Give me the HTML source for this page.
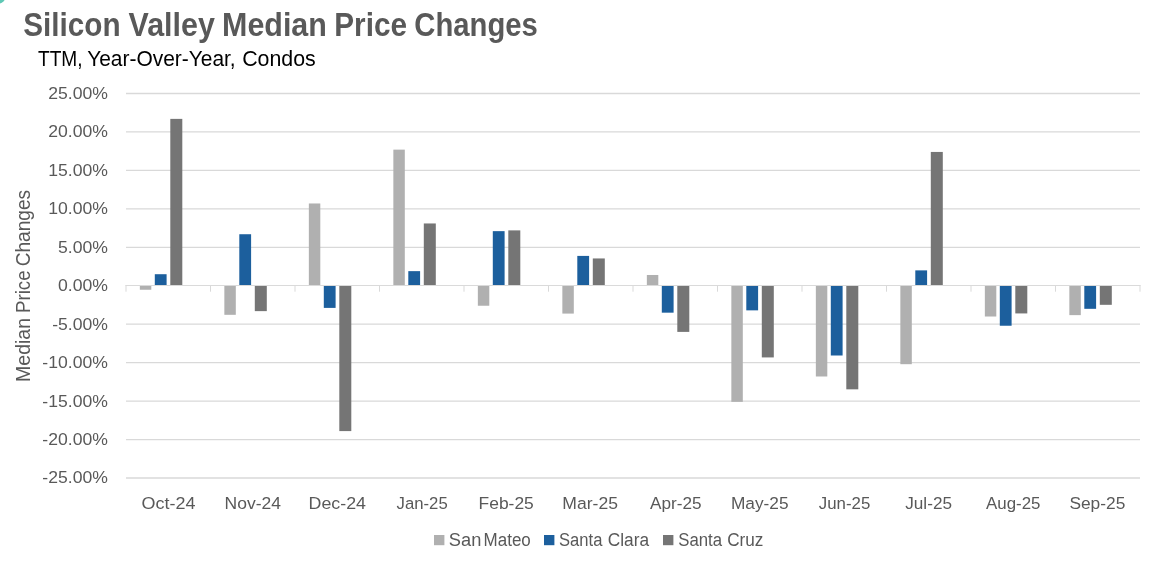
<!DOCTYPE html>
<html lang="en"><head><meta charset="utf-8"><title>Silicon Valley Median Price Changes</title>
<style>html,body{margin:0;padding:0;background:#fff;}body{width:1164px;height:576px;overflow:hidden;}svg{display:block;}text{font-family:"Liberation Sans", sans-serif;}</style>
</head><body>
<svg width="1164" height="576" viewBox="0 0 1164 576">
<rect width="1164" height="576" fill="#ffffff"/>
<circle cx="-3" cy="-5" r="9.1" fill="#5fc8b5"/>
<g stroke="#d9d9d9" stroke-width="1.3" fill="none">
<line x1="126.00" y1="93.50" x2="1140.00" y2="93.50"/>
<line x1="126.00" y1="131.95" x2="1140.00" y2="131.95"/>
<line x1="126.00" y1="170.40" x2="1140.00" y2="170.40"/>
<line x1="126.00" y1="208.85" x2="1140.00" y2="208.85"/>
<line x1="126.00" y1="247.30" x2="1140.00" y2="247.30"/>
<line x1="126.00" y1="324.20" x2="1140.00" y2="324.20"/>
<line x1="126.00" y1="362.65" x2="1140.00" y2="362.65"/>
<line x1="126.00" y1="401.10" x2="1140.00" y2="401.10"/>
<line x1="126.00" y1="439.55" x2="1140.00" y2="439.55"/>
<line x1="126.00" y1="478.00" x2="1140.00" y2="478.00"/>
<line x1="126.00" y1="285.00" x2="126.00" y2="291.70" stroke-width="1"/>
<line x1="210.50" y1="285.00" x2="210.50" y2="291.70" stroke-width="1"/>
<line x1="295.00" y1="285.00" x2="295.00" y2="291.70" stroke-width="1"/>
<line x1="379.50" y1="285.00" x2="379.50" y2="291.70" stroke-width="1"/>
<line x1="464.00" y1="285.00" x2="464.00" y2="291.70" stroke-width="1"/>
<line x1="548.50" y1="285.00" x2="548.50" y2="291.70" stroke-width="1"/>
<line x1="633.00" y1="285.00" x2="633.00" y2="291.70" stroke-width="1"/>
<line x1="717.50" y1="285.00" x2="717.50" y2="291.70" stroke-width="1"/>
<line x1="802.00" y1="285.00" x2="802.00" y2="291.70" stroke-width="1"/>
<line x1="886.50" y1="285.00" x2="886.50" y2="291.70" stroke-width="1"/>
<line x1="971.00" y1="285.00" x2="971.00" y2="291.70" stroke-width="1"/>
<line x1="1055.50" y1="285.00" x2="1055.50" y2="291.70" stroke-width="1"/>
<line x1="1140.00" y1="285.00" x2="1140.00" y2="291.70" stroke-width="1"/>
</g>
<rect x="139.85" y="285.75" width="11.45" height="4.00" fill="#b0b0b0"/>
<rect x="154.80" y="274.21" width="11.80" height="11.54" fill="#1c5f9d"/>
<rect x="170.30" y="118.88" width="12.00" height="166.87" fill="#757575"/>
<rect x="224.35" y="285.75" width="11.45" height="29.07" fill="#b0b0b0"/>
<rect x="239.30" y="234.23" width="11.80" height="51.52" fill="#1c5f9d"/>
<rect x="254.80" y="285.75" width="12.00" height="25.38" fill="#757575"/>
<rect x="308.85" y="203.47" width="11.45" height="82.28" fill="#b0b0b0"/>
<rect x="323.80" y="285.75" width="11.80" height="22.15" fill="#1c5f9d"/>
<rect x="339.30" y="285.75" width="12.00" height="145.34" fill="#757575"/>
<rect x="393.35" y="149.64" width="11.45" height="136.11" fill="#b0b0b0"/>
<rect x="408.30" y="271.14" width="11.80" height="14.61" fill="#1c5f9d"/>
<rect x="423.80" y="223.46" width="12.00" height="62.29" fill="#757575"/>
<rect x="477.85" y="285.75" width="11.45" height="19.99" fill="#b0b0b0"/>
<rect x="492.80" y="231.15" width="11.80" height="54.60" fill="#1c5f9d"/>
<rect x="508.30" y="230.38" width="12.00" height="55.37" fill="#757575"/>
<rect x="562.35" y="285.75" width="11.45" height="27.84" fill="#b0b0b0"/>
<rect x="577.30" y="255.91" width="11.80" height="29.84" fill="#1c5f9d"/>
<rect x="592.80" y="258.45" width="12.00" height="27.30" fill="#757575"/>
<rect x="646.85" y="274.98" width="11.45" height="10.77" fill="#b0b0b0"/>
<rect x="661.80" y="285.75" width="11.80" height="26.92" fill="#1c5f9d"/>
<rect x="677.30" y="285.75" width="12.00" height="46.14" fill="#757575"/>
<rect x="731.35" y="285.75" width="11.45" height="116.12" fill="#b0b0b0"/>
<rect x="746.30" y="285.75" width="11.80" height="24.61" fill="#1c5f9d"/>
<rect x="761.80" y="285.75" width="12.00" height="71.67" fill="#757575"/>
<rect x="815.85" y="285.75" width="11.45" height="90.74" fill="#b0b0b0"/>
<rect x="830.80" y="285.75" width="11.80" height="69.75" fill="#1c5f9d"/>
<rect x="846.30" y="285.75" width="12.00" height="103.58" fill="#757575"/>
<rect x="900.35" y="285.75" width="11.45" height="78.44" fill="#b0b0b0"/>
<rect x="915.30" y="270.37" width="11.80" height="15.38" fill="#1c5f9d"/>
<rect x="930.80" y="151.94" width="12.00" height="133.81" fill="#757575"/>
<rect x="984.85" y="285.75" width="11.45" height="30.76" fill="#b0b0b0"/>
<rect x="999.80" y="285.75" width="11.80" height="39.99" fill="#1c5f9d"/>
<rect x="1015.30" y="285.75" width="12.00" height="27.68" fill="#757575"/>
<rect x="1069.35" y="285.75" width="11.45" height="29.38" fill="#b0b0b0"/>
<rect x="1084.30" y="285.75" width="11.80" height="23.07" fill="#1c5f9d"/>
<rect x="1099.80" y="285.75" width="12.00" height="19.07" fill="#757575"/>
<rect x="125.50" y="285" width="1015.00" height="1" fill="#dadada"/>
<g fill="#595959" font-size="17.4">
<text x="48.22" y="98.90" textLength="59.71" lengthAdjust="spacingAndGlyphs">25.00%</text>
<text x="48.22" y="137.35" textLength="59.71" lengthAdjust="spacingAndGlyphs">20.00%</text>
<text x="48.22" y="175.80" textLength="59.71" lengthAdjust="spacingAndGlyphs">15.00%</text>
<text x="48.22" y="214.25" textLength="59.71" lengthAdjust="spacingAndGlyphs">10.00%</text>
<text x="58.01" y="252.70" textLength="49.92" lengthAdjust="spacingAndGlyphs">5.00%</text>
<text x="58.01" y="291.15" textLength="49.92" lengthAdjust="spacingAndGlyphs">0.00%</text>
<text x="52.15" y="329.60" textLength="55.78" lengthAdjust="spacingAndGlyphs">-5.00%</text>
<text x="42.36" y="368.05" textLength="65.57" lengthAdjust="spacingAndGlyphs">-10.00%</text>
<text x="42.36" y="406.50" textLength="65.57" lengthAdjust="spacingAndGlyphs">-15.00%</text>
<text x="42.36" y="444.95" textLength="65.57" lengthAdjust="spacingAndGlyphs">-20.00%</text>
<text x="42.36" y="483.40" textLength="65.57" lengthAdjust="spacingAndGlyphs">-25.00%</text>
</g>
<g fill="#595959" font-size="17.4">
<text x="141.56" y="509.0" textLength="53.86" lengthAdjust="spacingAndGlyphs">Oct-24</text>
<text x="224.56" y="509.0" textLength="56.44" lengthAdjust="spacingAndGlyphs">Nov-24</text>
<text x="308.54" y="509.0" textLength="57.47" lengthAdjust="spacingAndGlyphs">Dec-24</text>
<text x="396.55" y="509.0" textLength="51.15" lengthAdjust="spacingAndGlyphs">Jan-25</text>
<text x="478.57" y="509.0" textLength="55.25" lengthAdjust="spacingAndGlyphs">Feb-25</text>
<text x="562.36" y="509.0" textLength="55.67" lengthAdjust="spacingAndGlyphs">Mar-25</text>
<text x="649.97" y="509.0" textLength="51.55" lengthAdjust="spacingAndGlyphs">Apr-25</text>
<text x="730.98" y="509.0" textLength="57.63" lengthAdjust="spacingAndGlyphs">May-25</text>
<text x="818.85" y="509.0" textLength="51.45" lengthAdjust="spacingAndGlyphs">Jun-25</text>
<text x="905.24" y="509.0" textLength="46.76" lengthAdjust="spacingAndGlyphs">Jul-25</text>
<text x="986.07" y="509.0" textLength="54.44" lengthAdjust="spacingAndGlyphs">Aug-25</text>
<text x="1069.42" y="509.0" textLength="55.90" lengthAdjust="spacingAndGlyphs">Sep-25</text>
</g>
<g transform="translate(29.9 0) rotate(-90)"><text y="0.00" font-size="20.6" fill="#595959"><tspan x="-381.90" textLength="63.94" lengthAdjust="spacingAndGlyphs">Median</tspan> <tspan x="-313.03" textLength="42.56" lengthAdjust="spacingAndGlyphs">Price</tspan> <tspan x="-266.36" textLength="76.54" lengthAdjust="spacingAndGlyphs">Changes</tspan></text></g>
<text y="35.50" font-size="32.7" fill="#595959" font-weight="bold"><tspan x="23.17" textLength="97.38" lengthAdjust="spacingAndGlyphs">Silicon</tspan> <tspan x="128.62" textLength="86.23" lengthAdjust="spacingAndGlyphs">Valley</tspan> <tspan x="222.09" textLength="104.79" lengthAdjust="spacingAndGlyphs">Median</tspan> <tspan x="334.24" textLength="72.78" lengthAdjust="spacingAndGlyphs">Price</tspan> <tspan x="414.30" textLength="123.47" lengthAdjust="spacingAndGlyphs">Changes</tspan></text>
<text y="66.20" font-size="22.5" fill="#000000"><tspan x="37.98" textLength="44.63" lengthAdjust="spacingAndGlyphs">TTM,</tspan> <tspan x="87.14" textLength="148.54" lengthAdjust="spacingAndGlyphs">Year-Over-Year,</tspan> <tspan x="242.13" textLength="73.63" lengthAdjust="spacingAndGlyphs">Condos</tspan></text>
<rect x="434.0" y="535.0" width="10.4" height="10.2" fill="#b0b0b0"/>
<text y="545.80" font-size="17.6" fill="#595959"><tspan x="448.88" textLength="32.50" lengthAdjust="spacingAndGlyphs">San</tspan> <tspan x="483.61" textLength="47.19" lengthAdjust="spacingAndGlyphs">Mateo</tspan></text>
<rect x="544.0" y="535.0" width="10.4" height="10.2" fill="#1c5f9d"/>
<text y="545.80" font-size="17.6" fill="#595959"><tspan x="559.05" textLength="43.33" lengthAdjust="spacingAndGlyphs">Santa</tspan> <tspan x="607.73" textLength="41.34" lengthAdjust="spacingAndGlyphs">Clara</tspan></text>
<rect x="663.0" y="535.0" width="10.4" height="10.2" fill="#757575"/>
<text y="545.80" font-size="17.6" fill="#595959"><tspan x="678.25" textLength="43.84" lengthAdjust="spacingAndGlyphs">Santa</tspan> <tspan x="727.14" textLength="36.20" lengthAdjust="spacingAndGlyphs">Cruz</tspan></text>
</svg>
</body></html>
